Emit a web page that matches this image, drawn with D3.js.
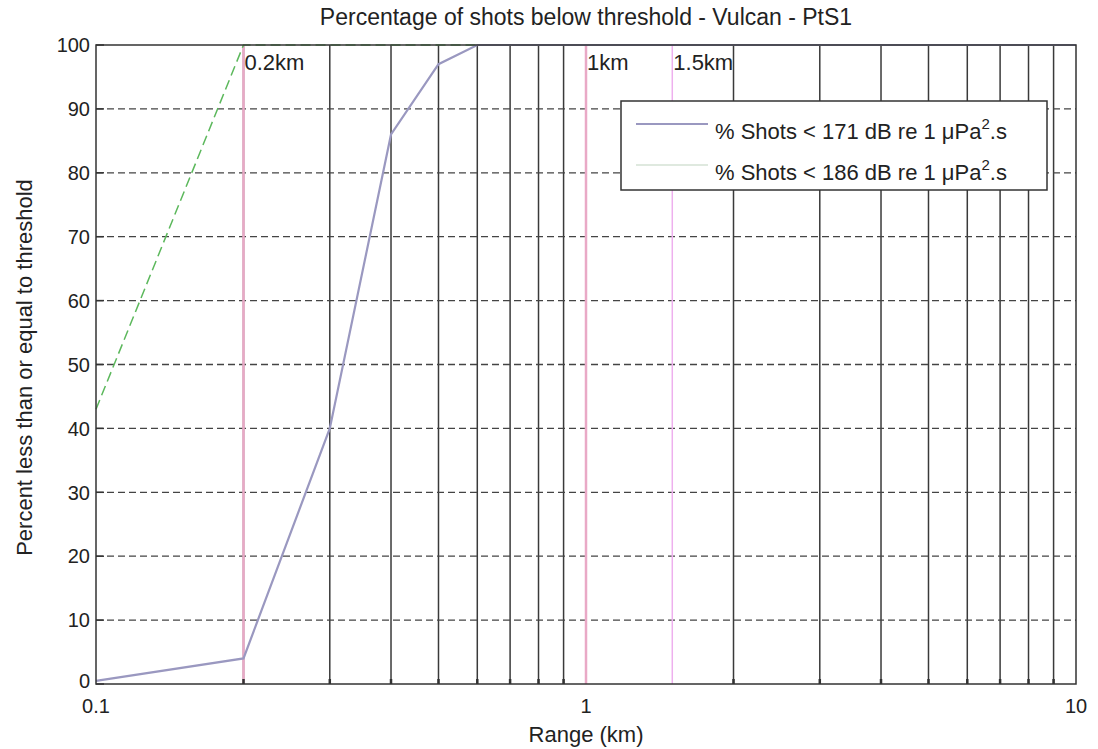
<!DOCTYPE html>
<html>
<head>
<meta charset="utf-8">
<title>Percentage of shots below threshold</title>
<script src="https://d3js.org/d3.v7.min.js"></script>
<style>
  body { margin: 0; background: #fff; }
  text { font-family: "Liberation Sans", Arial, sans-serif; fill: #222; }
</style>
</head>
<body>
<div id="chart"></div>
<script>
// data
var ranges = [0.1, 0.2, 0.3, 0.4, 0.5, 0.6, 0.7, 0.8, 0.9, 1, 2, 3, 4, 5, 6, 7, 8, 9, 10];
var pct171 = [0.5, 4, 40, 86, 97, 100, 100, 100, 100, 100, 100, 100, 100, 100, 100, 100, 100, 100, 100];
var pct186 = [43, 100, 100, 100, 100, 100, 100, 100, 100, 100, 100, 100, 100, 100, 100, 100, 100, 100, 100];
var markerRanges = [0.2, 1, 1.5];
var markerLabels = ["0.2km", "1km", "1.5km"];
var yTicks = [0, 10, 20, 30, 40, 50, 60, 70, 80, 90, 100];
var xTickLabels = [0.1, 1, 10];
var minorTicks = [0.2, 0.3, 0.4, 0.5, 0.6, 0.7, 0.8, 0.9, 2, 3, 4, 5, 6, 7, 8, 9];

var W = 1098, H = 749;
var margin = {top: 45, right: 22, bottom: 65, left: 96};
var width = W - margin.left - margin.right,
    height = H - margin.top - margin.bottom;

var svg = d3.select("#chart").append("svg")
    .attr("width", W).attr("height", H);
var g = svg.append("g")
    .attr("transform", "translate(" + margin.left + "," + margin.top + ")");

var x = d3.scaleLog().domain([0.1, 10]).range([0, width]);
var y = d3.scaleLinear().domain([0, 100]).range([height, 0]);

// grid
g.append("g").selectAll("line").data(minorTicks.concat([1])).enter().append("line")
    .attr("x1", function(d) { return x(d); }).attr("x2", function(d) { return x(d); })
    .attr("y1", 0).attr("y2", height)
    .attr("stroke", "#3a3a3a").attr("stroke-width", 1.5);
g.append("g").selectAll("line").data(yTicks.slice(1, -1)).enter().append("line")
    .attr("x1", 0).attr("x2", width)
    .attr("y1", function(d) { return y(d); }).attr("y2", function(d) { return y(d); })
    .attr("stroke", "#444").attr("stroke-width", 1.3)
    .attr("stroke-dasharray", "7,4");

// threshold markers
g.append("g").selectAll("line").data(markerRanges).enter().append("line")
    .attr("x1", function(d) { return x(d); }).attr("x2", function(d) { return x(d); })
    .attr("y1", 0).attr("y2", height)
    .attr("stroke", function(d, i) { return i == 2 ? "#eeb0ee" : "#e9a9c6"; })
    .attr("stroke-width", function(d, i) { return i == 2 ? 1.5 : 2.5; });
g.append("g").selectAll("text").data(markerRanges).enter().append("text")
    .attr("x", function(d) { return x(d) + 1; })
    .attr("y", 25)
    .attr("font-size", 22)
    .text(function(d, i) { return markerLabels[i]; });

// lines
var line171 = d3.line()
    .x(function(d, i) { return x(ranges[i]); })
    .y(function(d) { return y(d); });
g.append("path").datum(pct186)
    .attr("fill", "none").attr("stroke", "#5cb85c").attr("stroke-width", 1.5)
    .attr("stroke-dasharray", "10,5")
    .attr("d", line171);
g.append("path").datum(pct171)
    .attr("fill", "none").attr("stroke", "#9a98c0").attr("stroke-width", 2.2)
    .attr("d", line171);

// frame
g.append("rect").attr("width", width).attr("height", height)
    .attr("fill", "none").attr("stroke", "#333").attr("stroke-width", 1.5);

// ticks (inward, matlab style)
g.append("g").selectAll("line").data(yTicks).enter().append("line")
    .attr("x1", 0).attr("x2", 8)
    .attr("y1", function(d) { return y(d); }).attr("y2", function(d) { return y(d); })
    .attr("stroke", "#333").attr("stroke-width", 1.5);
g.append("g").selectAll("line").data(minorTicks).enter().append("line")
    .attr("x1", function(d) { return x(d); }).attr("x2", function(d) { return x(d); })
    .attr("y1", height).attr("y2", height - 5)
    .attr("stroke", "#333").attr("stroke-width", 2.5);

// tick labels
g.append("g").selectAll("text").data(yTicks).enter().append("text")
    .attr("x", -6).attr("y", function(d) { return y(d) - (d == 0 ? 3 : 0); })
    .attr("dy", "0.36em").attr("text-anchor", "end")
    .attr("font-size", 20)
    .text(function(d) { return d; });
g.append("g").selectAll("text").data(xTickLabels).enter().append("text")
    .attr("x", function(d) { return x(d); }).attr("y", height + 29)
    .attr("text-anchor", "middle")
    .attr("font-size", 20)
    .text(function(d) { return d; });

// titles
svg.append("text").attr("x", margin.left + width / 2).attr("y", 25)
    .attr("text-anchor", "middle").attr("font-size", 23)
    .text("Percentage of shots below threshold - Vulcan - PtS1");
svg.append("text").attr("x", margin.left + width / 2).attr("y", H - 7)
    .attr("text-anchor", "middle").attr("font-size", 22)
    .text("Range (km)");
svg.append("text")
    .attr("transform", "translate(32," + (margin.top + height / 2 + 3) + ") rotate(-90)")
    .attr("text-anchor", "middle").attr("font-size", 22)
    .text("Percent less than or equal to threshold");

// legend
var legendNames = ["171", "186"];
var legendColors = ["#9a98c0", "#dfe9df"];
var lg = svg.append("g").attr("transform", "translate(621,101)");
lg.append("rect").attr("width", 426).attr("height", 89)
    .attr("fill", "#fff").attr("stroke", "#333").attr("stroke-width", 1.5);
legendNames.forEach(function(n, i) {
    var yy = 23 + i * 41;
    lg.append("line").attr("x1", 15).attr("x2", 87).attr("y1", yy).attr("y2", yy)
        .attr("stroke", legendColors[i]).attr("stroke-width", 2.2);
    var t = lg.append("text").attr("x", 94).attr("y", yy + 15).attr("font-size", 22);
    t.append("tspan").text("% Shots < " + n + " dB re 1 \u03BCPa");
    t.append("tspan").attr("font-size", 15).attr("dy", -10).text("2");
    t.append("tspan").attr("dy", 10).text(".s");
});
</script>
</body>
</html>
